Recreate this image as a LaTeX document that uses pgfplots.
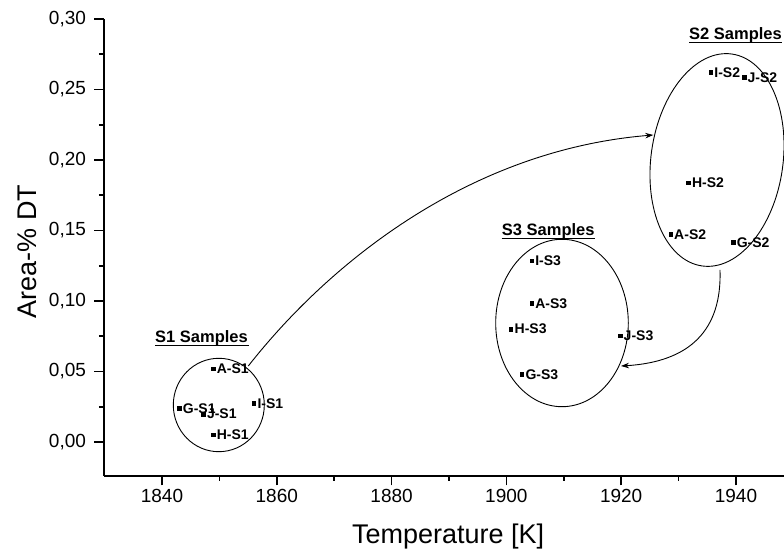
\documentclass[border=0pt]{standalone}
\usepackage{fontspec}
\setmainfont{Liberation Sans}
\usepackage{pgfplots}
\pgfplotsset{compat=1.18}
\usetikzlibrary{arrows.meta}

\pgfplotstableread{
x y label
1848.9 0.0522 A-S1
1843.0 0.0239 G-S1
1847.2 0.0198 J-S1
1856.0 0.0274 I-S1
1848.9 0.0050 H-S1
}\sone
\pgfplotstableread{
x y label
1904.4 0.1284 I-S3
1904.4 0.0984 A-S3
1900.8 0.0801 H-S3
1919.8 0.0754 J-S3
1902.7 0.0480 G-S3
}\sthree
\pgfplotstableread{
x y label
1935.6 0.2622 I-S2
1941.4 0.2586 J-S2
1931.7 0.1839 H-S2
1928.6 0.1473 A-S2
1939.5 0.1416 G-S2
}\stwo

\pgfplotsset{pts/.style={black, only marks, mark=square*, mark size=1.7pt,
    mark options={black, fill=black},
    nodes near coords, point meta=explicit symbolic,
    nodes near coords style={black, anchor=west, inner sep=0pt, xshift=3.5pt,
      font=\fontsize{14}{16}\selectfont\bfseries}}}

\begin{document}
\begin{tikzpicture}
\begin{axis}[
  scale only axis, width=680pt, height=457pt,
  xmin=1829.9, xmax=1948.37, ymin=-0.0241, ymax=0.30,
  axis x line*=bottom, axis y line*=left,
  axis line style={line width=1.8pt},
  xtick={1840,1860,1880,1900,1920,1940},
  ytick={0,0.05,0.1,0.15,0.2,0.25,0.3},
  minor x tick num=1, minor y tick num=1,
  tick align=outside,
  major tick length=9.5pt, minor tick length=5pt,
  tick style={black, line width=1.6pt},
  x tick label style={/pgf/number format/.cd, 1000 sep={}},
  y tick label style={xshift=-5pt, /pgf/number format/.cd, fixed, fixed zerofill, precision=2, use comma},
  /pgf/number format/assume math mode=true,
  tick label style={font=\fontsize{19}{22}\selectfont},
  xlabel={Temperature [K]}, ylabel={Area-\% DT},
  label style={font=\fontsize{27}{30}\selectfont},
  xlabel style={at={(axis description cs:0.506,-0.1328)}, anchor=center},
  ylabel style={at={(axis description cs:-0.1125,0.491)}, anchor=center},
  clip=false,
]
\addplot[pts] table[x=x, y=y, meta=label] {\sone};
\addplot[pts] table[x=x, y=y, meta=label] {\sthree};
\addplot[pts] table[x=x, y=y, meta=label] {\stwo};
\coordinate (O) at (rel axis cs:0,0);
\end{axis}
\begin{scope}[shift={([xshift=-104pt,yshift=476pt]O)}, x=1pt, y=-1pt]
  \begin{scope}[line width=0.9pt]
  \draw (218.8,405) ellipse [x radius=45.5pt, y radius=46.7pt];
  \draw (562,323) ellipse [x radius=66.3pt, y radius=83.7pt];
  \draw[shift={(717,160)}, rotate=-8] (0,0) ellipse [x radius=66pt, y radius=107pt];
  \draw[-{Stealth[length=8pt,width=5.5pt]}] (248.3,366) .. controls (330,262) and (470,150) .. (653.3,135);
  \draw[-{Stealth[length=8pt,width=5.5pt]}] (720,270) .. controls (722,330) and (690,362) .. (621,366);
  \end{scope}
  \begin{scope}[every node/.style={anchor=base west, inner sep=0pt, font=\fontsize{16.5}{18}\selectfont\bfseries}]
  \node at (155,343) {S1 Samples};
  \node at (501.7,236) {S3 Samples};
  \node at (689,40) {S2 Samples};
  \end{scope}
  \begin{scope}[line width=1.4pt]
  \draw (155,345.5) -- (248.5,345.5);
  \draw (501.7,238.5) -- (595,238.5);
  \draw (689,42.5) -- (782.3,42.5);
  \end{scope}
  \pgfresetboundingbox
  \useasboundingbox (0,0) rectangle (784,553);
\end{scope}
\end{tikzpicture}
\end{document}
